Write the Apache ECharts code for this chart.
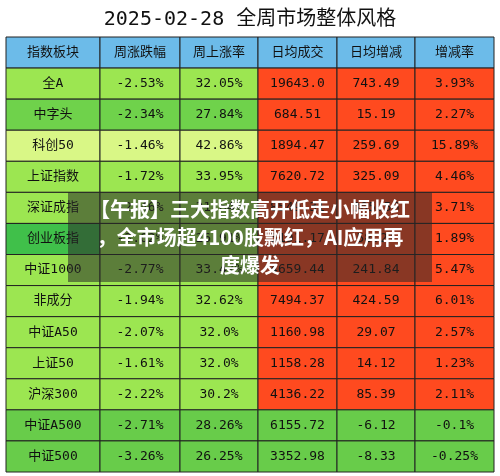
<!DOCTYPE html><html><head><meta charset="utf-8">
<script src="https://cdn.jsdelivr.net/npm/echarts@6/dist/echarts.min.js"></script>
<style>html,body{margin:0;background:#fff}#c{width:500px;height:476px}</style></head><body><div id="c"></div>
<script>
var headers=['指数板块','周涨跌幅','周上涨率','日均成交','日均增减','增减率'];
var rowNames=['全A','中字头','科创50','上证指数','深证成指','创业板指','中证1000','非成分','中证A50','上证50','沪深300','中证A500','中证500'];
var weekChg=['-2.53%','-2.34%','-1.46%','-1.72%','-2.46%','-3.62%','-2.77%','-1.94%','-2.07%','-1.61%','-2.22%','-2.71%','-3.26%'];
var upRatio=['32.05%','27.84%','42.86%','33.95%','31.64%','26.91%','33.47%','32.62%','32.0%','32.0%','30.2%','28.26%','26.25%'];
var avgVol=['19643.0','684.51','1894.47','7620.72','8549.31','3191.17','4659.44','7494.37','1160.98','1158.28','4136.22','6155.72','3352.98'];
var volChg=['743.49','15.19','259.69','325.09','305.56','58.21','241.84','424.59','29.07','14.12','85.39','-6.12','-8.33'];
var volRate=['3.93%','2.27%','15.89%','4.46%','3.71%','1.89%','5.47%','6.01%','2.57%','1.23%','2.11%','-0.1%','-0.25%'];
var edges=[0,94,174,252,331,409,488];
var leftCol={'中字头':'#6fd24b','科创50':'#d9f786','中证A500':'#68cc4a','中证500':'#68cc4a'};
var G1='#9ce651',RED='#ff4a1f',G2='#68cc4a',HEAD='#6cbbe9';
var FONT='"DejaVu Sans Mono","Noto Sans CJK SC",monospace';
var data=[];
headers.forEach(function(h,c){data.push([c,0,h,HEAD]);});
rowNames.forEach(function(n,i){
  var lc=leftCol[n]||G1;
  var first=(n==='创业板指')?'#40c04a':lc;
  var rc=volChg[i].charAt(0)==='-'?G2:RED;
  var vals=[n,weekChg[i],upRatio[i],avgVol[i],volChg[i],volRate[i]];
  vals.forEach(function(v,c){data.push([c,i+1,v,c===0?first:(c<3?lc:rc)]);});
});
var rows=['h'].concat(rowNames).map(function(_,i){return i;});
var chart=echarts.init(document.getElementById('c'));
chart.setOption({
  title:{text:'2025-02-28 全周市场整体风格',left:'center',top:5,textStyle:{fontSize:20,fontWeight:'normal',color:'#111',fontFamily:FONT}},
  grid:{left:6,right:6,top:37,bottom:4},
  xAxis:{type:'value',min:0,max:488,show:false},
  yAxis:{type:'category',data:rows,inverse:true,show:false},
  series:[{type:'custom',data:data,renderItem:function(p,api){
    var c=api.value(0),r=api.value(1);
    var x0=api.coord([edges[c],r]),x1=api.coord([edges[c+1],r]);
    var h=api.size([0,1])[1];
    var d=data[p.dataIndex];
    return {type:'group',children:[
      {type:'rect',shape:{x:x0[0],y:x0[1]-h/2,width:x1[0]-x0[0],height:h},style:{fill:d[3],stroke:'#222',lineWidth:1}},
      {type:'text',style:{text:d[2],x:(x0[0]+x1[0])/2,y:x0[1],align:'center',verticalAlign:'middle',fill:'#111',fontSize:13,fontFamily:FONT}}
    ]};
  }}],
  graphic:[{type:'rect',z:100,left:68,top:192,shape:{width:364,height:90},style:{fill:'rgba(40,40,40,0.55)'}},
    {type:'text',z:101,x:250,y:195,style:{text:'【午报】三大指数高开低走小幅收红\n，全市场超4100股飘红，AI应用再\n度爆发',fill:'#fff',fontSize:20,fontWeight:'bold',lineHeight:28,align:'center',verticalAlign:'top',fontFamily:'"Noto Sans CJK SC"'}}]
});
</script></body></html>
